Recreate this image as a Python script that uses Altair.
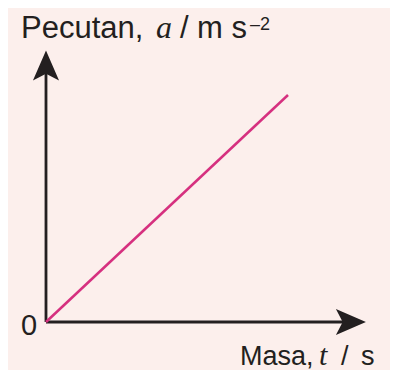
import altair as alt
import pandas as pd

# --- data ---
mass = [0, 10]          # Masa, t / s  (arbitrary units)
accel = [0, 10]         # Pecutan, a / m s^-2 (arbitrary units)
x_axis_end = 12.6
y_axis_end = 11.3
y_title_parts = ["Pecutan,", "a", "/", "m s", "–2"]
x_title_parts = ["Masa,", "t", "/", "s"]
origin_label = "0"

BG = "#fcefec"
INK = "#231f20"
LINE = "#d6307f"

xs = alt.Scale(domain=[-1.57, 14.215], nice=False, zero=False)
ys = alt.Scale(domain=[-2.115, 13.833], nice=False, zero=False)

line_df = pd.DataFrame({"x": mass, "y": accel})
axes_df = pd.DataFrame({"x": [0, 0], "y": [0, 0], "x2": [x_axis_end, 0], "y2": [0, y_axis_end]})
right_head = pd.DataFrame({"x": [x_axis_end], "y": [0]})
up_head = pd.DataFrame({"x": [0], "y": [y_axis_end]})

X = lambda: alt.X("x:Q", scale=xs, axis=None)
Y = lambda: alt.Y("y:Q", scale=ys, axis=None)

rules = alt.Chart(axes_df).mark_rule(color=INK, strokeWidth=2.8).encode(
    x=X(), y=Y(), x2="x2:Q", y2="y2:Q"
)
line = alt.Chart(line_df).mark_line(color=LINE, strokeWidth=2.5).encode(x=X(), y=Y())

head_r = alt.Chart(right_head).mark_point(
    shape="M1,0L-1,0.87L-0.55,0L-1,-0.87Z", size=900, filled=True, color=INK, opacity=1
).encode(x=X(), y=Y())
head_u = alt.Chart(up_head).mark_point(
    shape="M0,-1L0.87,1L0,0.55L-0.87,1Z", size=900, filled=True, color=INK, opacity=1
).encode(x=X(), y=Y())

def txt(s, px, py, size=31, font="Liberation Sans", style="normal"):
    return alt.Chart(pd.DataFrame({"t": [s]})).mark_text(
        align="left", baseline="alphabetic", font=font, fontSize=size,
        fontStyle=style, color=INK
    ).encode(x=alt.value(px), y=alt.value(py), text="t:N")

texts = [
    txt(y_title_parts[0], 13, 30),
    txt(y_title_parts[1], 148, 30, size=32, font="Liberation Serif", style="italic"),
    txt(y_title_parts[2], 172, 30),
    txt(y_title_parts[3], 189, 30),
    txt(y_title_parts[4], 242, 22, size=18),
    txt(x_title_parts[0], 232, 357, size=27),
    txt(x_title_parts[1], 311, 357, size=30, font="Liberation Serif", style="italic"),
    txt(x_title_parts[2], 333, 357, size=27),
    txt(x_title_parts[3], 353, 357, size=27),
    txt(origin_label, 13, 327, size=29),
]

chart = alt.layer(rules, line, head_r, head_u, *texts).properties(
    width=382, height=362, autosize=alt.AutoSizeParams(type="none"), padding=0,
    background=BG
).configure_view(stroke=None)

chart.save("out.html", embed_options={"renderer": "svg", "actions": False})
